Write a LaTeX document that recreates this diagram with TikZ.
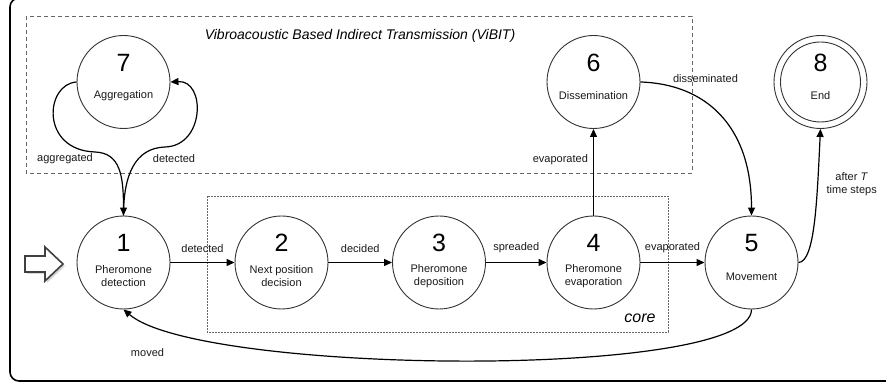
\documentclass[tikz,border=0pt]{standalone}
\usepackage{fontspec}
\setmainfont{Liberation Sans}
\usetikzlibrary{positioning,arrows.meta,shadows}

\tikzset{
  phase/.style={circle, draw=black!80, line width=0.9pt, minimum size=93pt, inner sep=0pt},
  phasenum/.style={font=\fontsize{25}{28}\selectfont, inner sep=0pt},
  phasetxt/.style={font=\fontsize{11}{13}\selectfont, text=black!90, align=center, inner sep=0pt},
  lbl/.style={font=\fontsize{11}{13}\selectfont, text=black!90, inner sep=1pt},
  flow/.style={-{Triangle[length=8pt,width=7pt]}, line width=1.2pt},
  region/.style={draw=black!60, line width=0.8pt},
}

\begin{document}
\begin{tikzpicture}[x=1pt,y=-1pt]
  \useasboundingbox (0,0) rectangle (886,387);
  \draw[line width=1.6pt, rounded corners=9pt] (10,-2) rectangle (900,381);

  % ViBIT and core regions
  \draw[region, dash pattern=on 4pt off 3pt] (26,16) rectangle (692,173);
  \node[font=\fontsize{14}{16}\selectfont\itshape] (vibit) at (360,36) {Vibroacoustic Based Indirect Transmission (ViBIT)};
  \draw[region, dash pattern=on 2pt off 1pt] (207,196) rectangle (668,332);
  \node[font=\fontsize{16}{18}\selectfont\itshape] (core) at (640,318) {core};

  % start arrow
  \draw[draw=black!75, line width=1.6pt, fill=white, line join=miter,
        drop shadow={shadow xshift=2pt, shadow yshift=-2pt, fill=black!30}]
    (25,256) -- (45,256) -- (45,247) -- (63,264) -- (45,281) -- (45,272) -- (25,272) -- cycle;

  \foreach \n/\x/\y/\t in {1/123.5/262.5/{Pheromone\\detection}, 2/281.5/262.5/{Next position\\decision},
      3/439/262.5/{Pheromone\\deposition}, 4/593.5/262.5/{Pheromone\\evaporation},
      5/751.5/262.5/Movement, 6/593.5/82/Dissemination, 7/123.5/82/Aggregation, 8/820.5/82/End} {
    \node[phase] (s\n) at (\x,\y) {};
    \node[phasenum] (n\n) at (\x,\y-19.5) {\n};
    \node[phasetxt] (t\n) at (\x,\y+14) {\t};
  }
  \node[phase, minimum size=80pt] (s8in) at (s8) {};

  \draw[flow] (s1) -- node[lbl, above=8pt] (l12) {detected} (s2);
  \draw[flow] (s2) -- node[lbl, above=8pt] (l23) {decided} (s3);
  \draw[flow] (s3) -- node[lbl, above=8pt] (l34) {spreaded} (s4);
  \draw[flow] (s4) -- node[lbl, above=8pt] (l45) {evaporated} (s5);
  \draw[flow] (s4) -- node[lbl, left=4pt, pos=0.64] (l46) {evaporated} (s6);
  \draw[flow] (s6.east) .. controls (705,84) and (751.5,125) .. (s5.north);
  \draw[flow] (s5.east) .. controls (815,262) and (817,200) .. (s8.south);
  \draw[flow] (s5.south) .. controls (751.5,380) and (200,375) .. (s1.south);
  \draw[flow] (s7.west) .. controls (45,84) and (40,150) .. (95,152) .. controls (120,153) and (123.5,175) .. (s1.north);
  \draw[flow] (s1.north) .. controls (123.5,175) and (135,148) .. (165,147) .. controls (205,146) and (206,80) .. (s7.east);

  \node[lbl] (l71) at (65,159) {aggregated};
  \node[lbl] (l17) at (174,159) {detected};
  \node[lbl] (l65) at (705.5,79) {disseminated};
  \node[lbl, align=center] (l58) at (851.7,184.5) {after \textit{T}\\time steps};
  \node[lbl] (l51) at (147.5,353) {moved};
\end{tikzpicture}
\end{document}
